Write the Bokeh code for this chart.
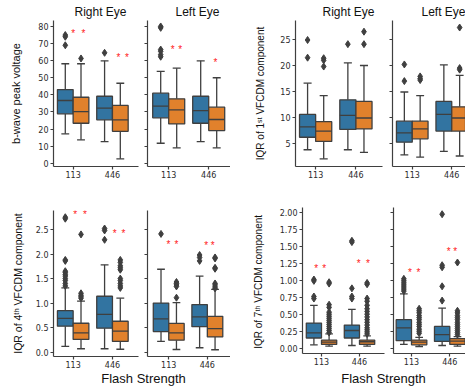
from bokeh.plotting import figure
from bokeh.models import Range1d, FixedTicker, ColumnDataSource, Label, NumeralTickFormatter
from bokeh.layouts import row, column
from bokeh.embed import file_html
from bokeh.resources import INLINE

# ---------------- data ----------------
strengths = ["113", "446"]
eyes = ["Right Eye", "Left Eye"]
# order in every list: [grp1 @113, grp2 @113, grp1 @446, grp2 @446]

# b-wave peak voltage
bw_R_lo = [17.2, 13.7, 12.7, 2.6]
bw_R_q1 = [28.9, 23.4, 25.4, 18.7]
bw_R_med = [36.7, 30.2, 32.2, 25.4]
bw_R_q3 = [43.1, 38.6, 39.2, 33.8]
bw_R_hi = [58.2, 58.2, 59.9, 46.8]
bw_R_out = [[75.0, 74.0, 69.0], [61.3], [64.6], []]
bw_R_star_x = [0.0, 0.26, 1.155, 1.37]
bw_R_star_y = [77.6, 77.6, 63.4, 63.4]

bw_L_lo = [11.7, 9.0, 12.7, 9.0]
bw_L_q1 = [26.6, 23.0, 23.4, 19.1]
bw_L_med = [33.4, 31.2, 30.8, 25.6]
bw_L_q3 = [41.0, 37.7, 39.2, 32.8]
bw_L_hi = [53.7, 55.6, 59.9, 50.0]
bw_L_out = [[80.0, 79.2, 66.5, 65.5, 63.5, 62.3], [], [], []]
bw_L_star_x = [0.1, 0.29, 1.17]
bw_L_star_y = [68.0, 68.0, 60.5]

# IQR of 1st VFCDM component
v1_R_lo = [3.8, 2.05, 3.8, 3.3]
v1_R_q1 = [6.2, 5.4, 7.7, 7.8]
v1_R_med = [8.2, 7.4, 10.4, 9.9]
v1_R_q3 = [10.6, 9.2, 13.4, 13.1]
v1_R_hi = [16.6, 14.2, 20.5, 20.0]
v1_R_out = [[24.9, 21.5], [21.4, 21.0, 19.8], [24.1], [26.5, 24.1]]

v1_L_lo = [2.8, 2.4, 3.5, 2.6]
v1_L_q1 = [5.25, 5.9, 7.4, 7.4]
v1_L_med = [7.05, 7.8, 10.6, 9.9]
v1_L_q3 = [9.3, 9.3, 13.1, 12.05]
v1_L_hi = [14.9, 14.2, 20.1, 18.1]
v1_L_out = [[20.2, 17.0], [17.9, 17.5, 17.2], [], [27.3, 19.5, 19.2]]

# IQR of 4th VFCDM component
v4_R_lo = [0.12, 0.07, 0.07, 0.06]
v4_R_q1 = [0.53, 0.26, 0.49, 0.22]
v4_R_med = [0.69, 0.395, 0.77, 0.43]
v4_R_q3 = [0.845, 0.59, 1.14, 0.63]
v4_R_hi = [1.31, 1.04, 1.78, 1.10]
v4_R_out = [[2.75, 2.72, 1.88, 1.86, 1.65, 1.62, 1.58, 1.55, 1.50, 1.46, 1.40, 1.35],
            [2.40, 1.20, 1.16, 1.13, 1.10],
            [2.52, 2.48, 2.29],
            [1.88, 1.83, 1.76, 1.72, 1.68, 1.50, 1.46, 1.40, 1.35, 1.31]]
v4_R_star_x = [0.05, 0.3, 1.06, 1.28]
v4_R_star_y = [2.86, 2.86, 2.48, 2.48]

v4_L_lo = [0.22, 0.055, 0.09, 0.05]
v4_L_q1 = [0.42, 0.245, 0.52, 0.31]
v4_L_med = [0.68, 0.395, 0.72, 0.48]
v4_L_q3 = [1.0, 0.585, 0.97, 0.73]
v4_L_hi = [1.69, 1.01, 1.55, 1.28]
v4_L_out = [[2.41], [1.43, 1.40, 1.37, 1.34, 1.11], [1.98, 1.93, 1.86],
            [1.93, 1.91, 1.72, 1.70, 1.40, 1.37, 1.33, 1.30]]
v4_L_star_x = [-0.01, 0.2, 0.97, 1.14]
v4_L_star_y = [2.26, 2.26, 2.23, 2.23]

# IQR of 7th VFCDM component
v7_R_lo = [0.05, 0.03, 0.04, 0.03]
v7_R_q1 = [0.15, 0.055, 0.15, 0.055]
v7_R_med = [0.225, 0.09, 0.26, 0.095]
v7_R_q3 = [0.37, 0.12, 0.34, 0.12]
v7_R_hi = [0.63, 0.21, 0.57, 0.18]
v7_R_out = [[1.01, 0.99, 0.76, 0.73],
            [0.97, 0.95, 0.64, 0.60, 0.53, 0.50, 0.47, 0.44, 0.41, 0.38, 0.35, 0.32, 0.29, 0.26, 0.23],
            [1.58, 1.56, 0.88, 0.76, 0.73],
            [0.96, 0.94, 0.73, 0.69, 0.63, 0.58, 0.54, 0.50, 0.46, 0.42, 0.38, 0.34, 0.30, 0.27, 0.24, 0.21]]
v7_R_star_x = [-0.14, 0.07, 0.98, 1.22]
v7_R_star_y = [1.21, 1.21, 1.29, 1.29]

v7_L_lo = [0.055, 0.025, 0.04, 0.03]
v7_L_q1 = [0.11, 0.05, 0.10, 0.055]
v7_L_med = [0.30, 0.09, 0.20, 0.105]
v7_L_q3 = [0.42, 0.12, 0.32, 0.14]
v7_L_hi = [0.80, 0.16, 0.59, 0.17]
v7_L_out = [[1.02, 0.99, 0.96, 0.93, 0.90, 0.87, 0.84],
            [0.58, 0.55, 0.52, 0.48, 0.45, 0.42, 0.38, 0.35, 0.32, 0.28, 0.25, 0.22],
            [1.97, 1.22, 1.19, 0.91, 0.70],
            [1.26, 0.55, 0.52, 0.48, 0.45, 0.42, 0.38, 0.35, 0.32, 0.29, 0.26, 0.23, 0.20]]
v7_L_star_x = [-0.04, 0.18, 0.97, 1.14]
v7_L_star_y = [1.16, 1.16, 1.46, 1.46]

ylabels = ["b-wave peak voltage", "IQR of 1\u02e2\u1d57 VFCDM component",
           "IQR of 4\u1d57\u02b0 VFCDM component", "IQR of 7\u1d57\u02b0  VFCDM component"]
xlabel = "Flash Strength"

# ---------------- style ----------------
BLUE = "#3274a1"
ORANGE = "#e1812c"
EDGE = "#3f3f3f"
TXT = "#2b2b2b"
LFONT = "Liberation Sans"
TFONT = "DejaVu Sans"


def make(width, height, borders, xr, yr, yticks, fmt=None, ylabel=None, ylabel_size="11px",
         standoff=12, show_ylabels=True):
    l, r, t, b = borders
    p = figure(width=width, height=height, x_range=Range1d(*xr), y_range=Range1d(*yr),
               toolbar_location=None, output_backend="svg",
               min_border_left=l, min_border_right=r, min_border_top=t, min_border_bottom=b,
               background_fill_color="white", border_fill_color="white", outline_line_color=None)
    p.grid.visible = False
    p.xaxis.ticker = FixedTicker(ticks=[0, 1])
    p.xaxis.major_label_overrides = {0: strengths[0], 1: strengths[1]}
    p.yaxis.ticker = FixedTicker(ticks=yticks)
    if fmt:
        p.yaxis.formatter = NumeralTickFormatter(format=fmt)
    for ax in p.axis:
        ax.axis_line_color = EDGE
        ax.axis_line_width = 1.2
        ax.major_tick_line_color = EDGE
        ax.major_tick_line_width = 1.2
        ax.major_tick_out = 3
        ax.major_tick_in = 0
        ax.minor_tick_out = 0
        ax.minor_tick_in = 0
        ax.major_label_text_font = TFONT
        ax.major_label_text_font_size = "8px"
        ax.major_label_text_color = TXT
        ax.major_label_standoff = 1
    p.yaxis.major_label_standoff = 2
    if not show_ylabels:
        p.yaxis.major_label_overrides = {t: "" for t in yticks}
        p.yaxis.major_label_standoff = 0
    if ylabel:
        p.yaxis.axis_label = ylabel
        p.yaxis.axis_label_text_font = LFONT
        p.yaxis.axis_label_text_font_style = "normal"
        p.yaxis.axis_label_text_font_size = ylabel_size
        p.yaxis.axis_label_text_color = "#111111"
        p.yaxis.axis_label_standoff = standoff
    return p


def draw(p, lo, q1, med, q3, hi, out, sx=None, sy=None):
    n = len(lo)
    xs = [i // 2 + (-0.2 if i % 2 == 0 else 0.2) for i in range(n)]
    cols = [BLUE if i % 2 == 0 else ORANGE for i in range(n)]
    src = ColumnDataSource(dict(x=xs, lo=lo, q1=q1, med=med, q3=q3, hi=hi, c=cols,
                                xl=[x - 0.2 for x in xs], xr=[x + 0.2 for x in xs],
                                cl=[x - 0.1 for x in xs], cr=[x + 0.1 for x in xs]))
    lw = 1.3
    p.segment(x0="x", y0="q3", x1="x", y1="hi", source=src, line_color=EDGE, line_width=lw)
    p.segment(x0="x", y0="lo", x1="x", y1="q1", source=src, line_color=EDGE, line_width=lw)
    p.segment(x0="cl", y0="hi", x1="cr", y1="hi", source=src, line_color=EDGE, line_width=lw)
    p.segment(x0="cl", y0="lo", x1="cr", y1="lo", source=src, line_color=EDGE, line_width=lw)
    p.vbar(x="x", width=0.4, bottom="q1", top="q3", source=src, fill_color="c",
           line_color=EDGE, line_width=lw)
    p.segment(x0="xl", y0="med", x1="xr", y1="med", source=src, line_color=EDGE, line_width=lw)
    ox, oy = [], []
    for i in range(n):
        for v in out[i]:
            ox.append(xs[i])
            oy.append(v)
    if ox:
        p.scatter(ox, oy, marker="diamond", size=7, fill_color=EDGE, line_color=EDGE)
    if sx:
        p.text(x=sx, y=sy, text=["*"] * len(sx), text_color="#ff2020", text_font_size="10px",
               text_align="center", text_baseline="middle", y_offset=3)


def textbar(width, height, cx, cy, txt, size):
    # strip figure whose ranges are its own pixels, holding one centred label
    c = figure(width=width, height=height, x_range=Range1d(0, width), y_range=Range1d(0, height),
               x_axis_type=None, y_axis_type=None, toolbar_location=None, output_backend="svg",
               min_border_left=0, min_border_right=0, min_border_top=0, min_border_bottom=0,
               outline_line_color=None, background_fill_color="white", border_fill_color="white")
    c.add_layout(Label(x=cx, y=cy, text=txt, text_align="center", text_baseline="middle",
                       text_font=LFONT, text_font_size=size, text_color="#111111"))
    return c


# ---- top-left panel: b-wave
A_y = (-1.9, 83.5)
A_ticks = [0, 10, 20, 30, 40, 50, 60, 70, 80]
A1 = make(140, 170, (53, 2, 0, 24), (-0.5, 1.663), A_y, A_ticks, ylabel=ylabels[0],
          ylabel_size="11px", standoff=13)
draw(A1, bw_R_lo, bw_R_q1, bw_R_med, bw_R_q3, bw_R_hi, bw_R_out, bw_R_star_x, bw_R_star_y)
A2 = make(90, 170, (7, 0, 0, 24), (-0.53, 1.545), A_y, A_ticks, show_ylabels=False)
draw(A2, bw_L_lo, bw_L_q1, bw_L_med, bw_L_q3, bw_L_hi, bw_L_out, bw_L_star_x, bw_L_star_y)

# ---- top-right panel: 1st VFCDM
B_y = (0.58, 28.65)
B_ticks = [5, 10, 15, 20, 25]
B1 = make(156, 170, (65, 4, 0, 24), (-0.5, 1.66), B_y, B_ticks, ylabel=ylabels[1],
          ylabel_size="10px", standoff=11)
draw(B1, v1_R_lo, v1_R_q1, v1_R_med, v1_R_q3, v1_R_hi, v1_R_out)
B2 = make(79, 170, (6, 0, 0, 24), (-0.5, 1.348), B_y, B_ticks, show_ylabels=False)
draw(B2, v1_L_lo, v1_L_q1, v1_L_med, v1_L_q3, v1_L_hi, v1_L_out)

tA1 = textbar(140, 20, 100, 9, eyes[0], "12px")
tA2 = textbar(90, 20, 57, 9, eyes[1], "12px")
tB1 = textbar(156, 20, 118, 9, eyes[0], "12px")
tB2 = textbar(79, 20, 57, 9, eyes[1], "12px")

# ---- bottom-left panel: 4th VFCDM
C_y = (-0.088, 2.887)
C_ticks = [0.0, 0.5, 1.0, 1.5, 2.0, 2.5]
C1 = make(140, 180, (53, 2, 20, 14), (-0.5, 1.663), C_y, C_ticks, fmt="0.0", ylabel=ylabels[2],
          ylabel_size="10.5px", standoff=9)
draw(C1, v4_R_lo, v4_R_q1, v4_R_med, v4_R_q3, v4_R_hi, v4_R_out, v4_R_star_x, v4_R_star_y)
C2 = make(90, 180, (7, 0, 20, 14), (-0.55, 1.6), C_y, C_ticks, show_ylabels=False)
draw(C2, v4_L_lo, v4_L_q1, v4_L_med, v4_L_q3, v4_L_hi, v4_L_out, v4_L_star_x, v4_L_star_y)

# ---- bottom-right panel: 7th VFCDM
D_y = (-0.078, 2.069)
D_ticks = [0.0, 0.25, 0.5, 0.75, 1.0, 1.25, 1.5, 1.75, 2.0]
D1 = make(158, 180, (72, 4, 17, 17), (-0.5, 1.658), D_y, D_ticks, fmt="0.00", ylabel=ylabels[3],
          ylabel_size="10px", standoff=13)
draw(D1, v7_R_lo, v7_R_q1, v7_R_med, v7_R_q3, v7_R_hi, v7_R_out, v7_R_star_x, v7_R_star_y)
D2 = make(77, 180, (5, 0, 17, 17), (-0.47, 1.41), D_y, D_ticks, show_ylabels=False)
draw(D2, v7_L_lo, v7_L_q1, v7_L_med, v7_L_q3, v7_L_hi, v7_L_out, v7_L_star_x, v7_L_star_y)

capC = textbar(230, 18, 143, 10, xlabel, "13px")
capD = textbar(235, 18, 153, 10, xlabel, "13px")

layout = column(
    row(tA1, tA2, tB1, tB2),
    row(A1, A2, B1, B2),
    row(column(row(C1, C2), capC), column(row(D1, D2), capD)),
)

open("out.html", "w").write(file_html(layout, INLINE))
